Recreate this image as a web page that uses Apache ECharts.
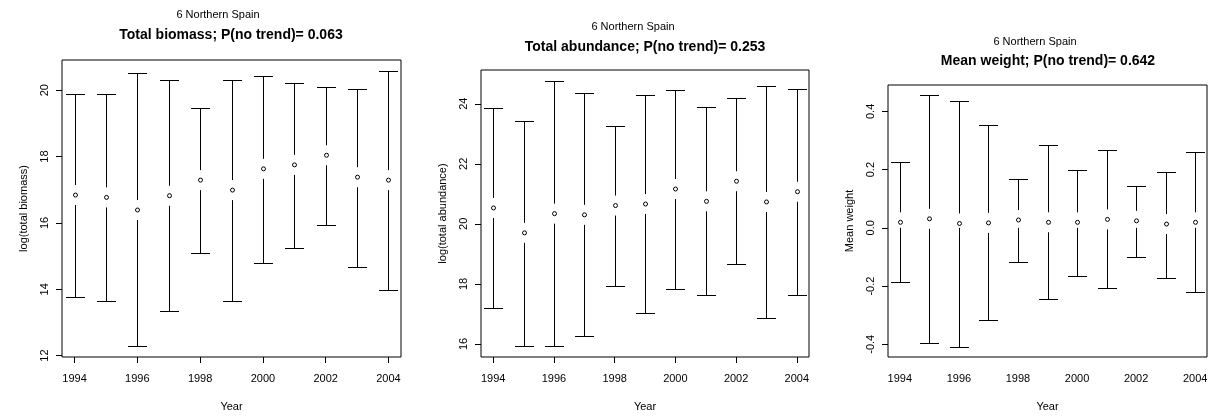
<!DOCTYPE html>
<html>
<head>
<meta charset="utf-8">
<script src="https://cdn.jsdelivr.net/npm/echarts@6/dist/echarts.min.js"></script>
<style>
html,body{margin:0;padding:0;background:#fff;}
#chart{width:1213px;height:417px;}
</style>
</head>
<body>
<div id="chart"></div>
<script>
// ---- data ----
var years = [1994, 1995, 1996, 1997, 1998, 1999, 2000, 2001, 2002, 2003, 2004];
var xTicks = [1994, 1996, 1998, 2000, 2002, 2004];

var biomassMean = [16.84, 16.77, 16.39, 16.82, 17.29, 16.99, 17.63, 17.75, 18.04, 17.38, 17.29];
var biomassLow  = [13.76, 13.66, 12.29, 13.34, 15.10, 13.66, 14.79, 15.23, 15.94, 14.68, 13.97];
var biomassHigh = [19.90, 19.88, 20.51, 20.30, 19.46, 20.32, 20.44, 20.22, 20.11, 20.04, 20.58];
var biomassTicks = [12, 14, 16, 18, 20];

var abundMean = [20.53, 19.70, 20.34, 20.30, 20.61, 20.66, 21.16, 20.75, 21.42, 20.73, 21.07];
var abundLow  = [17.19, 15.94, 15.92, 16.25, 17.93, 17.02, 17.83, 17.62, 18.65, 16.85, 17.62];
var abundHigh = [23.87, 23.41, 24.77, 24.35, 23.27, 24.30, 24.47, 23.89, 24.19, 24.60, 24.50];
var abundTicks = [16, 18, 20, 22, 24];

var weightMean = [0.019, 0.031, 0.015, 0.017, 0.027, 0.019, 0.019, 0.029, 0.024, 0.013, 0.019];
var weightLow  = [-0.187, -0.396, -0.409, -0.317, -0.117, -0.246, -0.164, -0.208, -0.100, -0.171, -0.222];
var weightHigh = [0.225, 0.456, 0.435, 0.352, 0.169, 0.284, 0.200, 0.267, 0.143, 0.193, 0.262];
var weightTicks = [-0.4, -0.2, 0.0, 0.2, 0.4];
var weightTickLabels = ['-0.4', '-0.2', '0.0', '0.2', '0.4'];

var subTitle = '6 Northern Spain';
var mainTitles = ['Total biomass; P(no trend)= 0.063', 'Total abundance; P(no trend)= 0.253', 'Mean weight; P(no trend)= 0.642'];
var yNames = ['log(total biomass)', 'log(total abundance)', 'Mean weight'];
var xName = 'Year';

// ---- layout ----
var FONT = 'Liberation Sans, Arial, Helvetica, sans-serif';
var grids = [
  {left: 62, top: 60, width: 339, height: 297},
  {left: 481, top: 70, width: 328, height: 289},
  {left: 888, top: 85, width: 319, height: 276}
];
var titlePos = [
  {sx: 218, sy: 15, bx: 231, by: 35},
  {sx: 633, sy: 27, bx: 645, by: 47},
  {sx: 1035, sy: 42, bx: 1048, by: 61}
];

function rangeOf(lo, hi) {
  var mn = Math.min.apply(null, lo), mx = Math.max.apply(null, hi);
  var pad = (mx - mn) * 0.04;
  return [mn - pad, mx + pad];
}

function makeData(lo, mean, hi) {
  return years.map(function (y, i) { return [y, lo[i], mean[i], hi[i]]; });
}

function renderItem(params, api) {
  var x = api.value(0), lo = api.value(1), m = api.value(2), hi = api.value(3);
  var pHi = api.coord([x, hi]), pLo = api.coord([x, lo]), pM = api.coord([x, m]);
  var px = Math.round(pHi[0]) + 0.5;
  var yHi = Math.round(pHi[1]) + 0.5, yLo = Math.round(pLo[1]) + 0.5, yM = pM[1];
  var cap = 9.5, gap = 10, r = 2;
  var st = {stroke: '#000', lineWidth: 1, fill: null};
  var children = [];
  if (yM - gap > yHi) children.push({type: 'line', shape: {x1: px, y1: yHi, x2: px, y2: yM - gap}, style: st});
  if (yM + gap < yLo) children.push({type: 'line', shape: {x1: px, y1: yM + gap, x2: px, y2: yLo}, style: st});
  children.push({type: 'line', shape: {x1: px - cap, y1: yHi, x2: px + cap, y2: yHi}, style: st});
  children.push({type: 'line', shape: {x1: px - cap, y1: yLo, x2: px + cap, y2: yLo}, style: st});
  children.push({type: 'circle', shape: {cx: px, cy: yM, r: r}, style: {stroke: '#000', lineWidth: 1, fill: '#fff'}});
  return {type: 'group', children: children};
}

var panels = [
  {lo: biomassLow, mean: biomassMean, hi: biomassHigh, ticks: biomassTicks, labels: null},
  {lo: abundLow, mean: abundMean, hi: abundHigh, ticks: abundTicks, labels: null},
  {lo: weightLow, mean: weightMean, hi: weightHigh, ticks: weightTicks, labels: weightTickLabels}
];

var option = {
  backgroundColor: '#fff',
  animation: false,
  textStyle: {fontFamily: FONT},
  grid: [], xAxis: [], yAxis: [], series: [], graphic: []
};

panels.forEach(function (p, k) {
  var g = grids[k];
  option.grid.push({left: g.left, top: g.top, width: g.width, height: g.height,
    show: true, borderColor: '#000', borderWidth: 1, backgroundColor: 'transparent', containLabel: false});
  option.xAxis.push({
    type: 'value', gridIndex: k, min: 1993.6, max: 2004.4,
    name: xName, nameLocation: 'middle', nameGap: 44,
    nameTextStyle: {fontSize: 11, color: '#000', fontFamily: FONT},
    axisLine: {show: false},
    splitLine: {show: false},
    axisTick: {show: true, inside: false, length: 6, customValues: xTicks, lineStyle: {color: '#000', width: 1}},
    axisLabel: {show: true, customValues: xTicks, margin: 16, fontSize: 11, color: '#000', fontFamily: FONT,
      formatter: function (v) { return String(Math.round(v)); }}
  });
  var rg = rangeOf(p.lo, p.hi);
  var labs = p.labels;
  var tks = p.ticks;
  option.yAxis.push({
    type: 'value', gridIndex: k, min: rg[0], max: rg[1],
    name: yNames[k], nameLocation: 'middle', nameGap: 33, nameRotate: 90,
    nameTextStyle: {fontSize: 11, color: '#000', fontFamily: FONT},
    axisLine: {show: false},
    splitLine: {show: false},
    axisTick: {show: true, inside: false, length: 6, customValues: tks, lineStyle: {color: '#000', width: 1}},
    axisLabel: {show: true, customValues: tks, rotate: 90, margin: 12, fontSize: 11, color: '#000', fontFamily: FONT,
      formatter: function (v) {
        if (labs) {
          for (var i = 0; i < tks.length; i++) if (Math.abs(tks[i] - v) < 1e-9) return labs[i];
        }
        return String(Math.round(v * 1000) / 1000);
      }}
  });
  option.series.push({
    type: 'custom', xAxisIndex: k, yAxisIndex: k,
    data: makeData(p.lo, p.mean, p.hi),
    renderItem: renderItem,
    clip: false, silent: true
  });
  var t = titlePos[k];
  option.graphic.push({type: 'text', x: t.sx, y: t.sy, silent: true,
    style: {text: subTitle, fontSize: 11, fontFamily: FONT, fill: '#000', align: 'center', verticalAlign: 'middle'}});
  option.graphic.push({type: 'text', x: t.bx, y: t.by, silent: true,
    style: {text: mainTitles[k], fontSize: 14, fontWeight: 'bold', fontFamily: FONT, fill: '#000', align: 'center', verticalAlign: 'middle'}});
});

var chart = echarts.init(document.getElementById('chart'), null, {renderer: 'canvas'});
chart.setOption(option);
</script>
</body>
</html>
